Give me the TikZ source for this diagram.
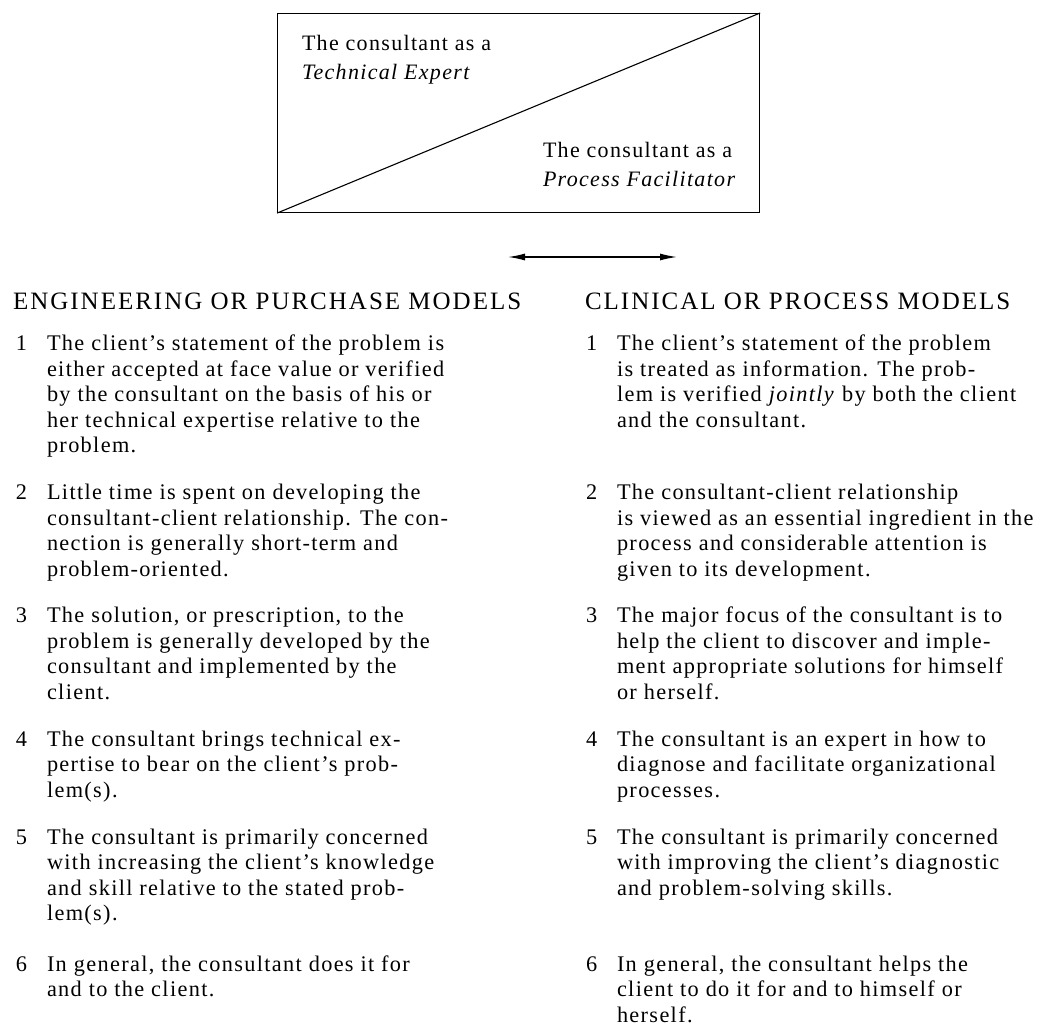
\documentclass[tikz,border=0pt]{standalone}
\usepackage{fontspec}
\setmainfont{Liberation Serif}[LetterSpace=6]
\newfontfamily\headfont{Liberation Serif}[LetterSpace=8]
\usetikzlibrary{arrows.meta}
\begin{document}
\begin{tikzpicture}[x=1pt,y=-1pt,
  txt/.style={anchor=base west, inner sep=0pt, outer sep=0pt},
  body/.style={txt, font=\fontsize{22.3}{25.5}\selectfont},
  head/.style={txt, font=\headfont\fontsize{25}{30}\selectfont},
  boxtext/.style={txt, font=\fontsize{22}{29}\selectfont},
  frame/.style={draw, line width=1.1pt, inner sep=0pt, anchor=north west},
  scale arrow/.style={line width=1.3pt, {Latex[length=17pt,width=7pt]}-{Latex[length=17pt,width=7pt]}}]
\useasboundingbox (0,0) rectangle (1045,1027);

% the divided box
\node[frame, minimum width=482pt, minimum height=199pt] (box) at (277,13) {};
\draw[line width=1.1pt] (box.south west) -- (box.north east);
\node[boxtext] (expert) at (302,51)
  {\parbox[t]{300pt}{The consultant as a\\\textit{Technical Expert}}};
\node[boxtext] (facil) at (543,158)
  {\parbox[t]{300pt}{The consultant as a\\\textit{Process Facilitator}}};

% the two-way arrow
\coordinate (aL) at (508,257);
\coordinate (aR) at (677,257);
\draw[scale arrow] (aL) -- (aR);

% column headings
\node[head] (hL) at (13,309) {ENGINEERING OR PURCHASE MODELS};
\node[head] (hR) at (585,309) {CLINICAL OR PROCESS MODELS};

% left column
\node[body] (nL1) at (16,351) {1};
\node[body] (tL1) at (47,351) {\parbox[t]{480pt}{The client's statement of the problem is\\either accepted at face value or verified\\by the consultant on the basis of his or\\her technical expertise relative to the\\problem.}};
\node[body] (nL2) at (16,499.5) {2};
\node[body] (tL2) at (47,499.5) {\parbox[t]{480pt}{Little time is spent on developing the\\consultant-client relationship. The con-\\nection is generally short-term and\\problem-oriented.}};
\node[body] (nL3) at (16,622.5) {3};
\node[body] (tL3) at (47,622.5) {\parbox[t]{480pt}{The solution, or prescription, to the\\problem is generally developed by the\\consultant and implemented by the\\client.}};
\node[body] (nL4) at (16,746) {4};
\node[body] (tL4) at (47,746) {\parbox[t]{480pt}{The consultant brings technical ex-\\pertise to bear on the client's prob-\\lem(s).}};
\node[body] (nL5) at (16,844) {5};
\node[body] (tL5) at (47,844) {\parbox[t]{480pt}{The consultant is primarily concerned\\with increasing the client's knowledge\\and skill relative to the stated prob-\\lem(s).}};
\node[body] (nL6) at (16,971) {6};
\node[body] (tL6) at (47,971) {\parbox[t]{480pt}{In general, the consultant does it for\\and to the client.}};

% right column
\node[body] (nR1) at (586,351) {1};
\node[body] (tR1) at (617,351) {\parbox[t]{480pt}{The client's statement of the problem\\is treated as information. The prob-\\lem is verified \textit{jointly} by both the client\\and the consultant.}};
\node[body] (nR2) at (586,499.5) {2};
\node[body] (tR2) at (617,499.5) {\parbox[t]{480pt}{The consultant-client relationship\\is viewed as an essential ingredient in the\\process and considerable attention is\\given to its development.}};
\node[body] (nR3) at (586,622.5) {3};
\node[body] (tR3) at (617,622.5) {\parbox[t]{480pt}{The major focus of the consultant is to\\help the client to discover and imple-\\ment appropriate solutions for himself\\or herself.}};
\node[body] (nR4) at (586,746) {4};
\node[body] (tR4) at (617,746) {\parbox[t]{480pt}{The consultant is an expert in how to\\diagnose and facilitate organizational\\processes.}};
\node[body] (nR5) at (586,844) {5};
\node[body] (tR5) at (617,844) {\parbox[t]{480pt}{The consultant is primarily concerned\\with improving the client's diagnostic\\and problem-solving skills.}};
\node[body] (nR6) at (586,971) {6};
\node[body] (tR6) at (617,971) {\parbox[t]{480pt}{In general, the consultant helps the\\client to do it for and to himself or\\herself.}};
\end{tikzpicture}
\end{document}
